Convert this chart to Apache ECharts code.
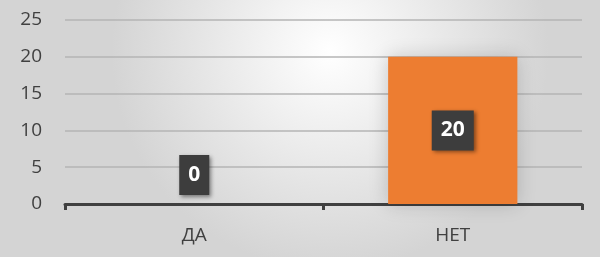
<!DOCTYPE html>
<html>
<head>
<meta charset="utf-8">
<script src="https://cdn.jsdelivr.net/npm/echarts@6/dist/echarts.min.js"></script>
<style>
    html, body { margin: 0; padding: 0; }
    #chart { width: 600px; height: 257px; }
</style>
</head>
<body>
<div id="chart"></div>
<script>
// данные
const categories = ['ДА', 'НЕТ'];
const values = [0, 20];
const yTicks = [0, 5, 10, 15, 20, 25];

const chart = echarts.init(document.getElementById('chart'));

const labelBox = {
    show: true,
    color: '#ffffff',
    fontFamily: 'Open Sans',
    fontWeight: 'bold',
    fontSize: 21,
    backgroundColor: '#3d3d3d',
    padding: [10, 9, 9, 9],
    shadowColor: 'rgba(0,0,0,0.45)',
    shadowBlur: 4,
    shadowOffsetX: 2,
    shadowOffsetY: 2
};

const option = {
    backgroundColor: {
        type: 'radial',
        x: 0.55, y: 0.2, r: 0.85,
        colorStops: [
            { offset: 0, color: '#ffffff' },
            { offset: 1, color: '#d4d4d4' }
        ]
    },
    grid: { left: 65, right: 18, top: 20, bottom: 53 },
    xAxis: {
        type: 'category',
        data: categories,
        axisLine: { lineStyle: { color: '#404040', width: 3 } },
        axisTick: { show: true, length: 6, lineStyle: { color: '#404040', width: 3 } },
        axisLabel: { color: '#404040', fontFamily: 'Open Sans', fontSize: 19, margin: 22 }
    },
    yAxis: {
        type: 'value',
        min: yTicks[0],
        max: yTicks[yTicks.length - 1],
        interval: 5,
        axisLine: { show: false },
        axisTick: { show: false },
        axisLabel: { color: '#404040', fontFamily: 'Open Sans', fontSize: 19, margin: 23 },
        splitLine: { lineStyle: { color: '#b4b4b4', width: 1.5 } }
    },
    series: [
        {
            type: 'bar',
            barWidth: '50%',
            data: values.map((v, i) => ({
                value: v,
                label: v === 0 ? { position: 'top', distance: 9 } : { position: 'inside' }
            })),
            itemStyle: {
                color: '#ed7d31',
                shadowColor: 'rgba(0,0,0,0.18)',
                shadowBlur: 18
            },
            label: labelBox
        }
    ]
};

chart.setOption(option);
</script>
</body>
</html>
